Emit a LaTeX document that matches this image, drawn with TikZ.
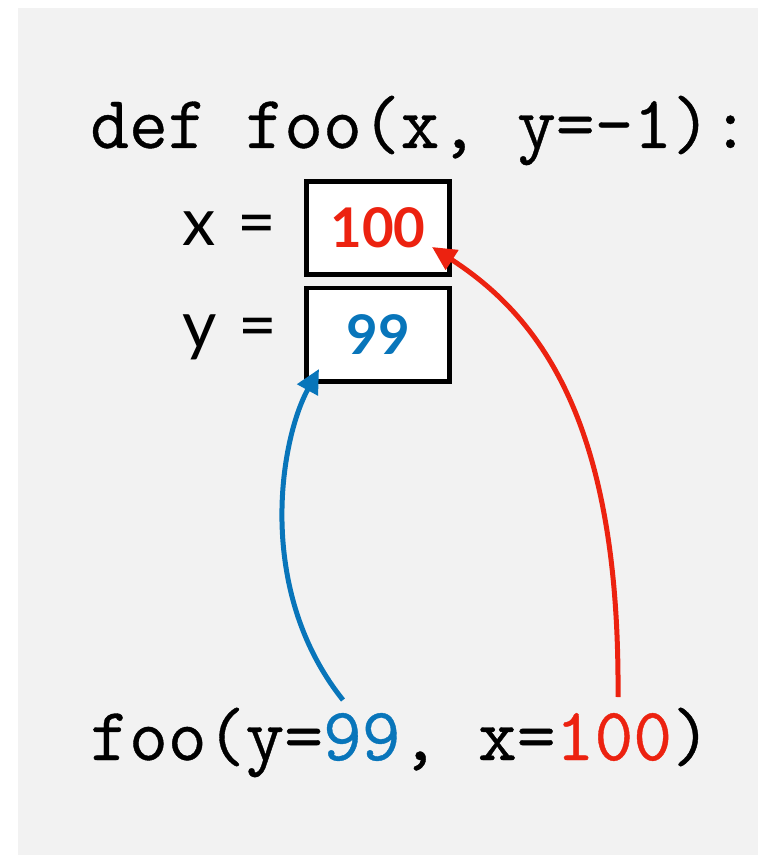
\documentclass[tikz,border=0pt]{standalone}
\usepackage{fontspec}
\newfontfamily\labfont{Lato}
\newfontfamily\codefont{Latin Modern Mono}[FakeBold=0.5]
\usetikzlibrary{arrows.meta}
\definecolor{bgray}{RGB}{242,242,242}
\definecolor{cred}{RGB}{236,34,16}
\definecolor{cblue}{RGB}{8,117,186}
\begin{document}
\begin{tikzpicture}[x=0.75pt,y=-0.75pt,
 code/.style={anchor=base west,inner sep=0pt,font=\codefont\fontsize{56.5}{66}\selectfont},
 lab/.style={anchor=base west,inner sep=0pt,font=\labfont\fontsize{50}{60}\selectfont},
 valbox/.style={draw=black,line width=3.5pt,fill=white,minimum width=107pt,minimum height=70pt,inner sep=0pt,font=\labfont\bfseries\fontsize{41}{50}\selectfont},
 link/.style={line width=3.75pt,-{Triangle[length=18pt,width=17pt]}}
]
\useasboundingbox (0,0) rectangle (758,855);
\fill[bgray] (18,8) rectangle (758,855);

\node[code] (def) at (90,148) {def foo(x, y=-1):};
\node[lab] (xlab) at (182,246) {x\,\,=};
\node[lab] (ylab) at (182,348) {y\,\,=};
\node[valbox] (xbox) at (378,228) {\textcolor{cred}{100}};
\node[valbox] (ybox) at (378,334.5) {\textcolor{cblue}{99}};
\node[code] (call) at (90,760) {foo(y=\textcolor{cblue}{99}, x=\textcolor{cred}{100})};

\coordinate (bstart) at (343,700);
\coordinate (bend) at (319,369);
\coordinate (rstart) at (618,697);
\coordinate (rend) at (432,247);

\draw[link,cred] (rstart) .. controls (620,430) and (545,320) .. (rend);
\draw[link,cblue] (bstart) .. controls (255,590) and (280,440) .. (bend);
\end{tikzpicture}
\end{document}
